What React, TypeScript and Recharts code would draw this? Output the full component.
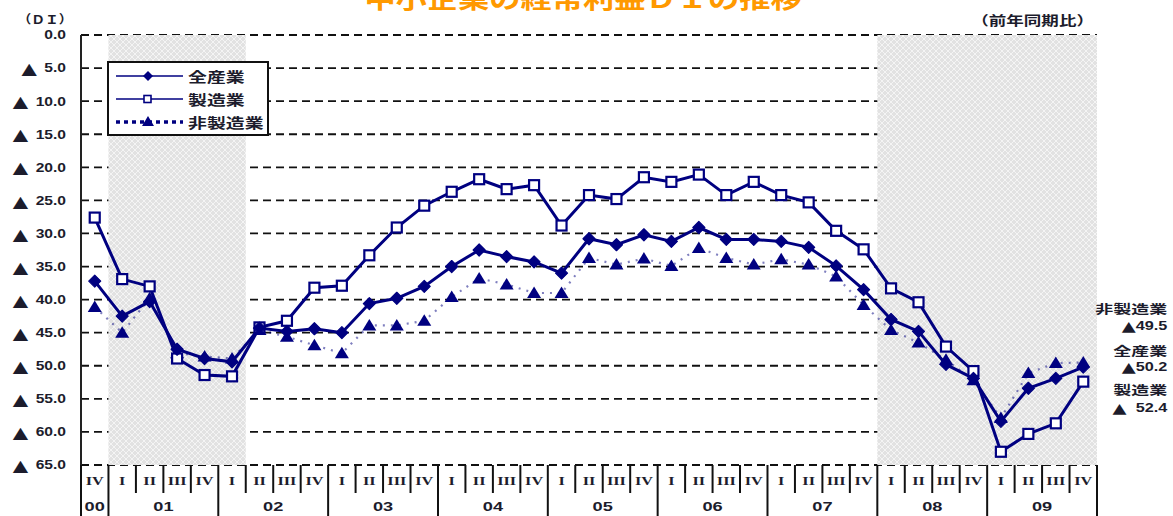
import React from 'react';
import { LineChart, Line, XAxis, YAxis, CartesianGrid, ReferenceArea, Legend, LabelList } from 'recharts';

// quarter labels, 2000 Q4 .. 2009 Q4
const YEARS = ['00', '01', '01', '01', '01', '02', '02', '02', '02', '03', '03', '03', '03', '04', '04', '04', '04', '05', '05', '05', '05', '06', '06', '06', '06', '07', '07', '07', '07', '08', '08', '08', '08', '09', '09', '09', '09'];
const QUARTERS = ['IV', 'I', 'II', 'III', 'IV', 'I', 'II', 'III', 'IV', 'I', 'II', 'III', 'IV', 'I', 'II', 'III', 'IV', 'I', 'II', 'III', 'IV', 'I', 'II', 'III', 'IV', 'I', 'II', 'III', 'IV', 'I', 'II', 'III', 'IV', 'I', 'II', 'III', 'IV'];

// DI (前年同期比), negative values shown with ▲
const ALL_IND = [-37.2, -42.5, -40.3, -47.5, -48.9, -49.4, -44.3, -44.8, -44.4, -45.0, -40.6, -39.8, -38.0, -35.0, -32.5, -33.5, -34.3, -36.0, -30.8, -31.7, -30.2, -31.2, -29.1, -30.9, -30.9, -31.2, -32.1, -34.9, -38.5, -43.0, -44.8, -49.8, -51.9, -58.4, -53.4, -51.9, -50.2];
const MFG = [-27.6, -36.9, -38.0, -48.9, -51.4, -51.6, -44.2, -43.2, -38.2, -37.9, -33.3, -29.1, -25.8, -23.7, -21.8, -23.3, -22.7, -28.8, -24.2, -24.8, -21.5, -22.2, -21.1, -24.2, -22.2, -24.2, -25.3, -29.6, -32.4, -38.3, -40.4, -47.1, -50.8, -63.0, -60.3, -58.7, -52.4];
const NON_MFG = [-41.1, -45.0, -39.8, -48.1, -48.6, -48.9, -44.6, -45.6, -46.9, -48.1, -43.9, -43.9, -43.2, -39.6, -36.8, -37.7, -39.0, -39.0, -33.7, -34.7, -33.8, -34.9, -32.2, -33.7, -34.7, -33.9, -34.7, -36.5, -40.8, -44.6, -46.5, -49.1, -52.2, -57.9, -51.1, -49.6, -49.5];

const Y_TICKS = [0, -5, -10, -15, -20, -25, -30, -35, -40, -45, -50, -55, -60, -65];
const SHADED = [['01-I', '02-I'], ['08-I', '09-IV']];

const NAVY = '#000080';
const INK = '#1c1c2c';
const SANS = '"Liberation Sans", Arial, sans-serif';
const SERIF = '"Liberation Serif", "Times New Roman", serif';
const CJK = '"Noto Sans CJK JP", sans-serif';
const TRI_FONT = '"DejaVu Sans", sans-serif';

const N = QUARTERS.length;
const LAST = N - 1;
const periods = QUARTERS.map((q, i) => `${YEARS[i]}-${q}`);
const rows = QUARTERS.map((q, i) => ({
  x: i + 0.5,
  all: ALL_IND[i],
  mfg: MFG[i],
  nonMfg: NON_MFG[i],
}));

// year spans -> centre positions for the year labels
const yearCenters: Record<string, string> = {};
{
  let start = 0;
  for (let i = 1; i <= N; i++) {
    if (i === N || YEARS[i] !== YEARS[start]) {
      yearCenters[String((start + i) / 2)] = YEARS[start];
      start = i;
    }
  }
}
const boundaries = Array.from({ length: N + 1 }, (_, i) => i);
const bottomTicks = [...boundaries, ...QUARTERS.map((_, i) => i + 0.5)].sort((a, b) => a - b);

function SText({ x, y, sx = 1.3, size = 12, family = SANS, anchor = 'middle', fill = INK, children }: any) {
  return (
    <g transform={`translate(${x} ${y}) scale(${sx} 1)`}>
      <text x={0} y={0} fontSize={size} fontFamily={family} fontWeight={700} fill={fill} textAnchor={anchor} dominantBaseline="central">
        {children}
      </text>
    </g>
  );
}

function BottomTick({ x, y, payload }: any) {
  const v = payload.value;
  const items = [];
  if (Number.isInteger(v)) {
    const isYear = v === 0 || v === N || YEARS[v] !== YEARS[v - 1];
    items.push(<line key="l" x1={x} x2={x} y1={y} y2={y + (isYear ? 51 : 28)} stroke="#111" strokeWidth={2} />);
  } else {
    items.push(<SText key="q" x={x} y={y + 16} size={12.5} family={SERIF} sx={1.3}>{QUARTERS[v - 0.5]}</SText>);
  }
  const yr = yearCenters[String(v)];
  if (yr) items.push(<SText key="y" x={x} y={y + 41} size={13} sx={1.4}>{yr}</SText>);
  return <g>{items}</g>;
}

function TopTick({ x, y }: any) {
  return <line x1={x} x2={x} y1={y - 4} y2={y + 4} stroke="#222" strokeWidth={1.5} />;
}

function YTick({ x, y, payload }: any) {
  const v = payload.value;
  return (
    <g transform={`translate(${x} ${y}) scale(1.25 1)`}>
      <text x={0} y={0} fontSize={12.5} fontFamily={SANS} fontWeight={700} fill={INK} textAnchor="end" dominantBaseline="central">
        {v < 0 && <tspan fontFamily={TRI_FONT} fontSize={16}>▲</tspan>}
        <tspan dx={v < 0 ? 6 : 0}>{Math.abs(v).toFixed(1)}</tspan>
      </text>
    </g>
  );
}

function Diamond({ cx, cy }: any) {
  if (cx == null) return null;
  return <path d={`M${cx} ${cy - 6}L${cx + 6} ${cy}L${cx} ${cy + 6}L${cx - 6} ${cy}Z`} fill={NAVY} stroke={NAVY} strokeWidth={1.2} strokeLinejoin="round" />;
}
function Square({ cx, cy }: any) {
  if (cx == null) return null;
  return <rect x={cx - 5} y={cy - 5} width={10} height={10} fill="#fff" stroke={NAVY} strokeWidth={2.2} />;
}
function Triangle({ cx, cy }: any) {
  if (cx == null) return null;
  return <path d={`M${cx} ${cy - 6.5}L${cx + 7} ${cy + 5}L${cx - 7} ${cy + 5}Z`} fill={NAVY} />;
}

function endLabel(name: string, dy1: number, dy2: number, gap: boolean) {
  return (props: any) => {
    if (props.index !== LAST) return null;
    const rx = props.x + 84;
    return (
      <g>
        <SText x={rx} y={props.y + dy1} size={12} family={CJK} sx={1.5} anchor="end">{name}</SText>
        <SText x={rx} y={props.y + dy2} size={12.5} sx={1.3} anchor="end">
          <tspan fontFamily={TRI_FONT} fontSize={14}>▲</tspan>
          <tspan dx={gap ? 7 : 0}>{Math.abs(props.value).toFixed(1)}</tspan>
        </SText>
      </g>
    );
  };
}

const LEGEND_ITEMS = [
  { label: '全産業', mark: 'diamond', dash: undefined },
  { label: '製造業', mark: 'square', dash: undefined },
  { label: '非製造業', mark: 'triangle', dash: '4 4' },
];

function LegendBox() {
  return (
    <svg width={163} height={76}>
      <rect x={1} y={1} width={160} height={73} fill="#fff" stroke="#111" strokeWidth={2} />
      {LEGEND_ITEMS.map((it, i) => {
        const cy = 15 + i * 23;
        return (
          <g key={it.label}>
            <line x1={9} x2={76} y1={cy} y2={cy} stroke={NAVY} strokeWidth={it.dash ? 3.5 : 1.6} strokeDasharray={it.dash} />
            {it.mark === 'diamond' && <path d={`M41 ${cy - 5}L46 ${cy}L41 ${cy + 5}L36 ${cy}Z`} fill={NAVY} />}
            {it.mark === 'square' && <rect x={37} y={cy - 3.5} width={7} height={7} fill="#fff" stroke={NAVY} strokeWidth={1.6} />}
            {it.mark === 'triangle' && <path d={`M41 ${cy - 6}L47 ${cy + 4}L35 ${cy + 4}Z`} fill={NAVY} />}
            <SText x={81} y={cy} size={14} family={CJK} sx={1.35} anchor="start">{it.label}</SText>
          </g>
        );
      })}
    </svg>
  );
}

export default function App() {
  return (
    <div style={{ position: 'absolute', left: 0, top: 0, width: 1173, height: 516, background: '#fff', overflow: 'hidden' }}>
      <LineChart width={1173} height={516} data={rows} margin={{ top: 35, right: 76, bottom: 0, left: 0 }}>
        <defs>
          <pattern id="hatch" width="6" height="6" patternUnits="userSpaceOnUse">
            <rect width="6" height="6" fill="#e2e2e2" />
            <path d="M0 3L3 0L6 3L3 6Z" fill="none" stroke="#f4f4f4" strokeWidth="1" />
          </pattern>
        </defs>
        <CartesianGrid vertical={false} stroke="#111" strokeWidth={1.8} strokeDasharray="8 5" />
        <XAxis
          type="number"
          dataKey="x"
          domain={[0, N]}
          ticks={bottomTicks}
          interval={0}
          height={51}
          tickSize={0}
          tickMargin={0}
          axisLine={false}
          tick={(p: any) => <BottomTick {...p} />}
        />
        <XAxis
          xAxisId="top"
          orientation="top"
          type="number"
          dataKey="x"
          domain={[0, N]}
          ticks={boundaries}
          interval={0}
          height={0}
          tickSize={0}
          tickMargin={0}
          axisLine={{ stroke: '#222', strokeWidth: 2 }}
          tick={(p: any) => <TopTick {...p} />}
        />
        <YAxis
          type="number"
          domain={[-65, 0]}
          ticks={Y_TICKS}
          interval={0}
          width={81}
          tickSize={0}
          tickMargin={15}
          tickLine={false}
          axisLine={{ stroke: '#222', strokeWidth: 2 }}
          tick={(p: any) => <YTick {...p} />}
        />
        {SHADED.map(([a, b]) => (
          <ReferenceArea
            key={a}
            x1={periods.indexOf(a)}
            x2={periods.indexOf(b) + 1}
            fill="url(#hatch)"
            fillOpacity={1}
            stroke="none"
          />
        ))}
        <Legend
          layout="vertical"
          align="center"
          verticalAlign="middle"
          content={() => <LegendBox />}
          wrapperStyle={{ left: 107, top: 61, width: 163, height: 76 }}
        />
        <Line
          dataKey="nonMfg"
          name="非製造業"
          stroke={NAVY}
          strokeOpacity={0.5}
          strokeWidth={2.2}
          strokeDasharray="2 6"
          dot={(p: any) => <Triangle key={p.index} {...p} />}
          activeDot={false}
          isAnimationActive={false}
        >
          <LabelList dataKey="nonMfg" content={endLabel('非製造業', -54, -37, false)} />
        </Line>
        <Line
          dataKey="mfg"
          name="製造業"
          stroke={NAVY}
          strokeWidth={3}
          dot={(p: any) => <Square key={p.index} {...p} />}
          activeDot={false}
          isAnimationActive={false}
        >
          <LabelList dataKey="mfg" content={endLabel('製造業', 8, 26, true)} />
        </Line>
        <Line
          dataKey="all"
          name="全産業"
          stroke={NAVY}
          strokeWidth={3}
          dot={(p: any) => <Diamond key={p.index} {...p} />}
          activeDot={false}
          isAnimationActive={false}
        >
          <LabelList dataKey="all" content={endLabel('全産業', -17, 0, false)} />
        </Line>
        <SText x={45} y={19} size={12} family={CJK} sx={1.15}>（ＤＩ）</SText>
        <SText x={1094} y={19} size={13} family={CJK} sx={1.35} anchor="end">（前年同期比）</SText>
        <SText x={583} y={-3} size={25} family={CJK} sx={1.25} fill="#FF9900">中小企業の経常利益ＤＩの推移</SText>
      </LineChart>
    </div>
  );
}
